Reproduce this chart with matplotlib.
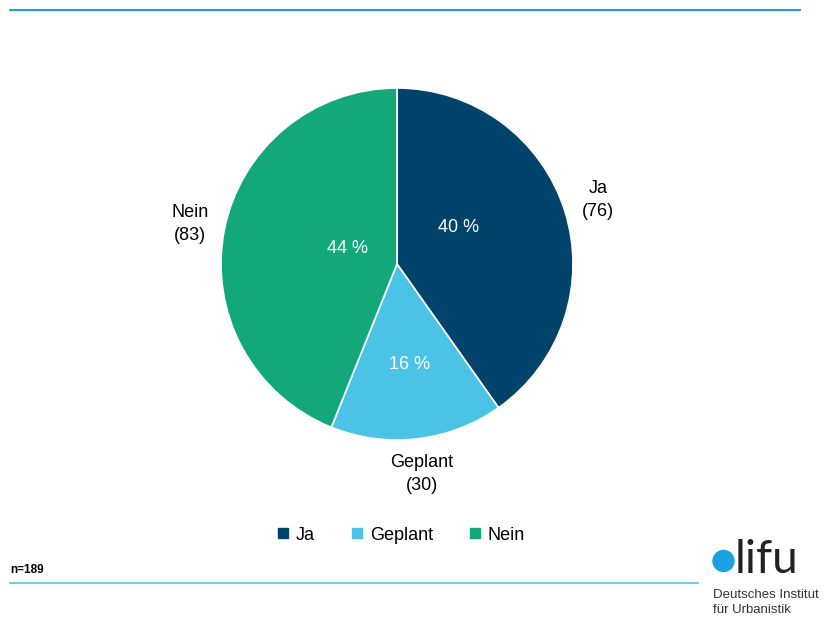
import matplotlib.pyplot as plt
from matplotlib.lines import Line2D
from matplotlib.patches import Ellipse

plt.rcParams['font.family'] = ['Liberation Sans', 'DejaVu Sans']

categories = ["Ja", "Geplant", "Nein"]
counts = [76, 30, 83]
colors = ["#01436b", "#4bc3e6", "#12a87a"]
n_total = 189

W, H = 828, 617
fig = plt.figure(figsize=(W / 100, H / 100), dpi=100)

# pie axes: centre (397, 264) px, radius 176 px
cx, cy, r = 397, 264, 176
ax = fig.add_axes([(cx - r) / W, 1 - (cy + r) / H, 2 * r / W, 2 * r / H])

wedges, texts, autotexts = ax.pie(
    counts, colors=colors, startangle=90, counterclock=False,
    labels=[f"{c}\n({v})" for c, v in zip(categories, counts)],
    labeldistance=1.2,
    autopct=lambda p: f"{p:.0f} %", pctdistance=0.5,
    wedgeprops=dict(edgecolor="white", linewidth=1.2),
    textprops=dict(fontsize=13),
)
ax.set_aspect("equal")
ax.set_xlim(-1, 1)
ax.set_ylim(-1, 1)
for t in texts:
    t.set_clip_on(False)
    t.set_ha("center")
    t.set_va("center")
    t.set_linespacing(1.45)
    t.set_color("black")
for t in autotexts:
    t.set_color("white")
    t.set_fontsize(13)

# nudge the percentage labels inside their wedges
pct_pos = [(0.35, 0.21), (0.07, -0.57), (-0.28, 0.09)]
for t, p in zip(autotexts, pct_pos):
    t.set_position(p)

# legend
handles = [Line2D([], [], marker="s", linestyle="none", markersize=7,
                  markerfacecolor=c, markeredgecolor=c) for c in colors]
fig.legend(handles, categories, loc="center", bbox_to_anchor=(401 / W, 1 - 535 / H),
           ncol=3, frameon=False, fontsize=13, handletextpad=0.35,
           columnspacing=2.0, handlelength=0.7)

# rules top and bottom
fig.add_artist(Line2D([10 / W, 800 / W], [1 - 10 / H] * 2, color="#0098d8", lw=1.3))
fig.add_artist(Line2D([10 / W, 698 / W], [1 - 583 / H] * 2, color="#66c6ee", lw=1.3))

fig.text(10 / W, 1 - 570 / H, f"n={n_total}", fontsize=8.5, fontweight="bold",
         ha="left", va="center")

# logo
fig.add_artist(Ellipse((723.5 / W, 1 - 561 / H), 21 / W, 21 / H, color="#1ba1e2",
                       transform=fig.transFigure))
fig.text(735 / W, 1 - 573 / H, "lifu", fontsize=33, family=["Lato", "DejaVu Sans"],
         color="#222222", ha="left", va="baseline")
fig.text(713 / W, 1 - 595 / H, "Deutsches Institut", fontsize=9.5, color="#333333",
         ha="left", va="center")
fig.text(713 / W, 1 - 610 / H, "für Urbanistik", fontsize=9.5, color="#333333",
         ha="left", va="center")

fig.savefig("out.png", dpi=100, facecolor="white")
